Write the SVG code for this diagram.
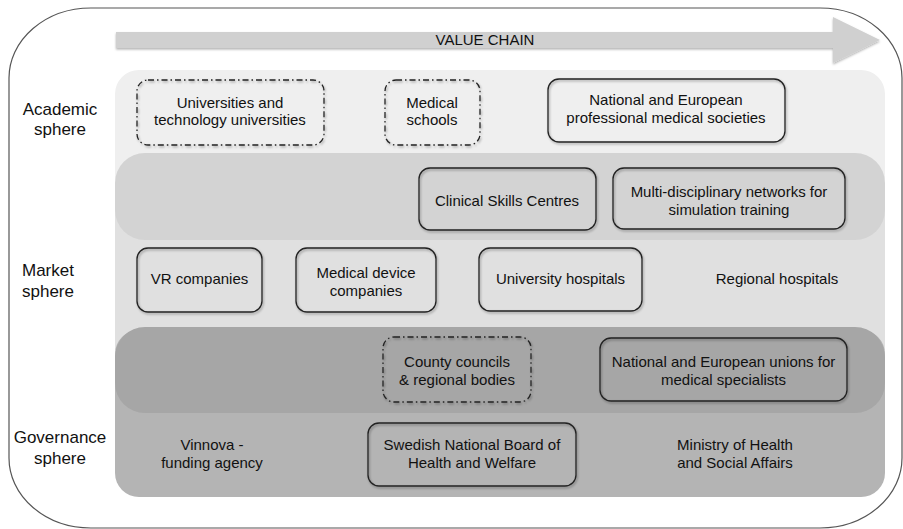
<svg xmlns="http://www.w3.org/2000/svg" width="903" height="529" viewBox="0 0 903 529">
<style>
text{font-family:"Liberation Sans",Arial,sans-serif;fill:#111;}
.n{font-size:15px;text-anchor:middle;}
.lbl{font-size:17px;text-anchor:middle;}
.box{fill:none;stroke:#222;stroke-width:1.3;filter:url(#sh);}
.dash{stroke-dasharray:6 3 1.5 3;}
</style>
<defs>
<filter id="sh" x="-10%" y="-20%" width="125%" height="150%">
<feDropShadow dx="1" dy="1.5" stdDeviation="1.2" flood-color="#000" flood-opacity="0.35"/>
</filter>
<filter id="sh2" x="-5%" y="-20%" width="110%" height="160%">
<feDropShadow dx="0" dy="1.5" stdDeviation="0.8" flood-color="#000" flood-opacity="0.3"/>
</filter>
</defs>
<rect width="903" height="529" fill="#fff"/>
<rect id="frame" x="9" y="8" width="893" height="520" rx="82" ry="70" fill="#fff" stroke="#555" stroke-width="1.2"/>
<g id="value-chain">
<path d="M116 32 H833 V17 L880 40 L833 63 V48 H116 Z" fill="#d0d0d0" filter="url(#sh2)"/>
<text x="485" y="45" style="font-size:15px;text-anchor:middle">VALUE CHAIN</text>
</g>
<g id="bands">
<rect x="115" y="70" width="770" height="130" rx="24" fill="#efefef"/>
<rect x="115" y="190" width="770" height="160" fill="#e0e0e0"/>
<rect x="115" y="330" width="770" height="167" rx="24" fill="#b4b4b4"/>
<rect x="115" y="153" width="770" height="87" rx="30" fill="#d3d3d3"/>
<rect x="115" y="327" width="770" height="86" rx="30" fill="#a6a6a6"/>
</g>
<g id="row-labels">
<text class="lbl" x="60" y="115">Academic</text>
<text class="lbl" x="60" y="135">sphere</text>
<text class="lbl" x="22" y="276" style="text-anchor:start">Market</text>
<text class="lbl" x="22" y="297" style="text-anchor:start">sphere</text>
<text class="lbl" x="60" y="443">Governance</text>
<text class="lbl" x="60" y="464">sphere</text>
</g>
<g id="universities">
<rect class="box dash" x="137" y="80" width="187" height="65" rx="11"/>
<text class="n" x="230" y="108">Universities and</text>
<text class="n" x="230" y="125">technology universities</text>
</g>
<g id="medical-schools">
<rect class="box dash" x="385" y="80" width="95" height="65" rx="11"/>
<text class="n" x="432" y="108">Medical</text>
<text class="n" x="432" y="125">schools</text>
</g>
<g id="professional-societies">
<rect class="box" x="548" y="79" width="237" height="63" rx="11"/>
<text class="n" x="666" y="105">National and European</text>
<text class="n" x="666" y="123">professional medical societies</text>
</g>
<g id="clinical-skills">
<rect class="box" x="419" y="168" width="177" height="62" rx="11"/>
<text class="n" x="507" y="206">Clinical Skills Centres</text>
</g>
<g id="networks">
<rect class="box" x="613" y="168" width="232" height="61" rx="11"/>
<text class="n" x="729" y="197">Multi-disciplinary networks for</text>
<text class="n" x="729" y="215">simulation training</text>
</g>
<g id="vr-companies">
<rect class="box" x="137" y="248" width="125" height="64" rx="11"/>
<text class="n" x="199.5" y="284">VR companies</text>
</g>
<g id="medical-device">
<rect class="box" x="296" y="248" width="140" height="64" rx="11"/>
<text class="n" x="366" y="278">Medical device</text>
<text class="n" x="366" y="296">companies</text>
</g>
<g id="university-hospitals">
<rect class="box" x="479" y="248" width="163" height="63" rx="11"/>
<text class="n" x="560.5" y="284">University hospitals</text>
</g>
<g id="regional-hospitals">
<text class="n" x="777" y="284">Regional hospitals</text>
</g>
<g id="county-councils">
<rect class="box dash" x="383" y="337" width="148" height="65" rx="11"/>
<text class="n" x="457" y="367">County councils</text>
<text class="n" x="457" y="385">&amp; regional bodies</text>
</g>
<g id="unions">
<rect class="box" x="600" y="338" width="247" height="63" rx="11"/>
<text class="n" x="723.5" y="367">National and European unions for</text>
<text class="n" x="723.5" y="385">medical specialists</text>
</g>
<g id="vinnova">
<text class="n" x="212" y="450">Vinnova -</text>
<text class="n" x="212" y="468">funding agency</text>
</g>
<g id="swedish-board">
<rect class="box" x="368" y="423" width="208" height="63" rx="11"/>
<text class="n" x="472" y="450">Swedish National Board of</text>
<text class="n" x="472" y="468">Health and Welfare</text>
</g>
<g id="ministry">
<text class="n" x="735" y="450">Ministry of Health</text>
<text class="n" x="735" y="468">and Social Affairs</text>
</g>
<g id="connectors"></g>
</svg>
